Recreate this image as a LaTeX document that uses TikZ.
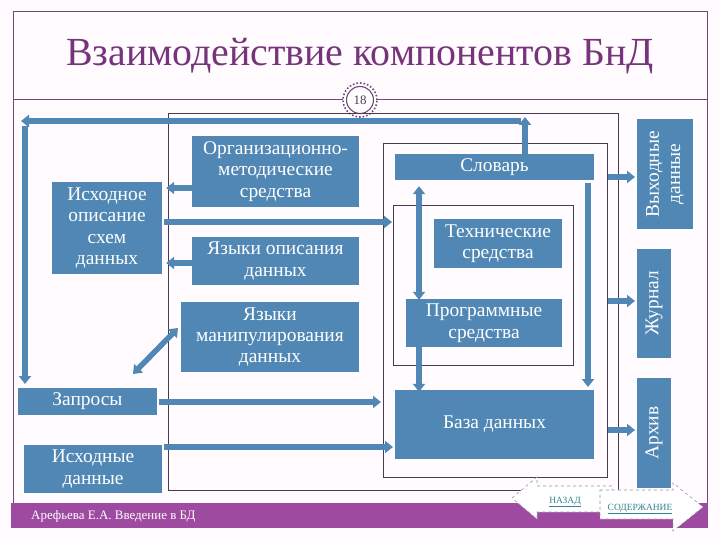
\documentclass[tikz,border=0pt]{standalone}
\usepackage{fontspec}
\setmainfont{Liberation Serif}
\usetikzlibrary{arrows.meta}
\definecolor{boxblue}{RGB}{80,135,180}
\definecolor{titlepurple}{RGB}{118,52,122}
\definecolor{footpurple}{RGB}{158,74,160}
\definecolor{linegray}{RGB}{70,60,82}
\definecolor{framepurple}{RGB}{112,72,118}
\definecolor{navteal}{RGB}{50,130,145}
\definecolor{pagebg}{RGB}{255,251,255}
\definecolor{navgray}{RGB}{150,150,160}
\begin{document}
\begin{tikzpicture}[x=1bp,y=-1bp,
  bluebox/.style={fill=boxblue,text=white,inner sep=1bp,align=center,
    font=\fontsize{19.5}{21.5}\selectfont},
  bigarrow/.style={draw=boxblue,line width=5.5bp,-{Triangle[width=12bp,length=8bp]}},
  dblarrow/.style={draw=boxblue,line width=5.5bp,{Triangle[width=12bp,length=8bp]}-{Triangle[width=12bp,length=8bp]}},
  thinbox/.style={draw=linegray,line width=0.9bp},
  frameline/.style={draw=framepurple,line width=1bp},
  navshape/.style={fill=white,draw=navgray,dashed,line width=0.6bp},
  navtext/.style={text=navteal,font=\fontsize{9.5}{11}\selectfont,inner sep=0pt}
]
\useasboundingbox (0,0) rectangle (720,540);
\fill[pagebg] (0,0) rectangle (720,540);
% frame
\draw[frameline] (13,503) -- (13,12) -- (707,12) -- (707,503);
\draw[frameline] (13,100) -- (343,100);
\draw[frameline] (377,100) -- (707,100);
% title
\node[text=titlepurple,font=\fontsize{40}{44}\selectfont,inner sep=0pt] (title) at (360,56) {Взаимодействие компонентов БнД};
% page number
\node[circle,fill=white,draw=framepurple,line width=1.6bp,dotted,minimum size=34bp,inner sep=0pt] (pgring) at (360,100) {};
\node[circle,draw=framepurple,line width=1.1bp,minimum size=27bp,inner sep=0pt,text=linegray,font=\fontsize{13}{15}\selectfont] (pg) at (360,100) {18};
% footer
\fill[footpurple] (11,503) rectangle (708,528);
\node[anchor=west,text=white,font=\fontsize{13}{15}\selectfont,inner sep=0pt] (author) at (31,516) {Арефьева Е.А. Введение в БД};
% thin boxes
\draw[thinbox] (168,113) rectangle (618,490);
\draw[thinbox] (383,143) rectangle (607,477);
\draw[thinbox] (393,205) rectangle (573,365);
% nodes
\node[bluebox,minimum width=110bp,minimum height=91bp] (isd) at (107,228) {Исходное\\описание\\схем\\данных};
\node[bluebox,minimum width=167bp,minimum height=71bp] (org) at (275.5,171.5) {Организационно-\\методические\\средства};
\node[bluebox,minimum width=167bp,minimum height=48bp] (yaz) at (275.5,261) {Языки описания\\данных};
\node[bluebox,minimum width=178bp,minimum height=70bp] (yman) at (270,337) {Языки\\манипулирования\\данных};
\node[bluebox,minimum width=139bp,minimum height=27bp] (zap) at (87.5,401.5) {Запросы};
\node[bluebox,minimum width=138bp,minimum height=48bp] (isx) at (93,469) {Исходные\\данные};
\node[bluebox,minimum width=199bp,minimum height=26bp] (slov) at (494.5,167) {Словарь};
\node[bluebox,minimum width=128bp,minimum height=49bp] (tech) at (498,243.5) {Технические\\средства};
\node[bluebox,minimum width=156bp,minimum height=48bp] (prog) at (484,323) {Программные\\средства};
\node[bluebox,minimum width=199bp,minimum height=69bp] (bd) at (494.5,424.5) {База данных};
\node[bluebox,rotate=90,minimum width=110bp,minimum height=56bp] (vyx) at (665,174) {Выходные\\данные};
\node[bluebox,rotate=90,minimum width=109bp,minimum height=34bp] (jur) at (654,303.5) {Журнал};
\node[bluebox,rotate=90,minimum width=110bp,minimum height=34bp] (arx) at (654,433) {Архив};
% helper coordinates
\coordinate (topR) at (525,117);
\coordinate (barR) at (521,121);
\coordinate (barL) at (21,121);
\coordinate (downT) at (25,126);
\coordinate (downB) at (25,384);
\coordinate (cL) at (392,222);
\coordinate (bL) at (381,402);
\coordinate (bdL) at (393,447);
\coordinate (vyxL) at (635,177);
\coordinate (jurL) at (635,301);
\coordinate (arxL) at (635,430);
\coordinate (slovR) at (608,177);
\coordinate (jurR) at (608,301);
\coordinate (arxR) at (608,430);
\coordinate (rtop) at (588,183);
\coordinate (rbot) at (588,387);
\coordinate (y188) at (0,188);
\coordinate (y263) at (0,263);
\coordinate (y222) at (0,222);
\coordinate (y402) at (0,402);
\coordinate (y447) at (0,447);
\coordinate (x419) at (419,0);
\coordinate (x525) at (525,0);
% arrows
\draw[bigarrow] (slov.north -| x525) -- (topR);
\draw[bigarrow] (barR) -- (barL);
\draw[bigarrow] (downT) -- (downB);
\draw[bigarrow] (org.west |- y188) -- ([xshift=4bp]isd.east |- y188);
\draw[bigarrow] (yaz.west |- y263) -- ([xshift=4bp]isd.east |- y263);
\draw[bigarrow] ([xshift=2bp]isd.east |- y222) -- (cL);
\draw[dblarrow] (133,374) -- (178,328);
\draw[bigarrow] ([xshift=2bp]zap.east |- y402) -- (bL);
\draw[bigarrow] ([xshift=2bp]isx.east |- y447) -- (bdL);
\draw[dblarrow] ([yshift=-1bp]prog.north -| x419) -- ([yshift=-6bp]slov.south -| x419);
\draw[bigarrow] (prog.south -| x419) -- ([yshift=-2bp]bd.north -| x419);
\draw[bigarrow] (rtop) -- (rbot);
\draw[bigarrow] (slovR) -- (vyxL);
\draw[bigarrow] (jurR) -- (jurL);
\draw[bigarrow] (arxR) -- (arxL);
% navigation
\draw[navshape] (512,498) -- (537,477) -- (537,486) -- (612,486) -- (612,512) -- (537,512) -- (537,519) -- cycle;
\draw[navshape] (600,490) -- (673,490) -- (673,483) -- (703,507) -- (673,531) -- (673,519) -- (600,519) -- cycle;
\node[navtext] (back) at (565,502) {\underline{НАЗАД}};
\node[navtext] (toc) at (640,509) {\underline{СОДЕРЖАНИЕ}};
\end{tikzpicture}
\end{document}
